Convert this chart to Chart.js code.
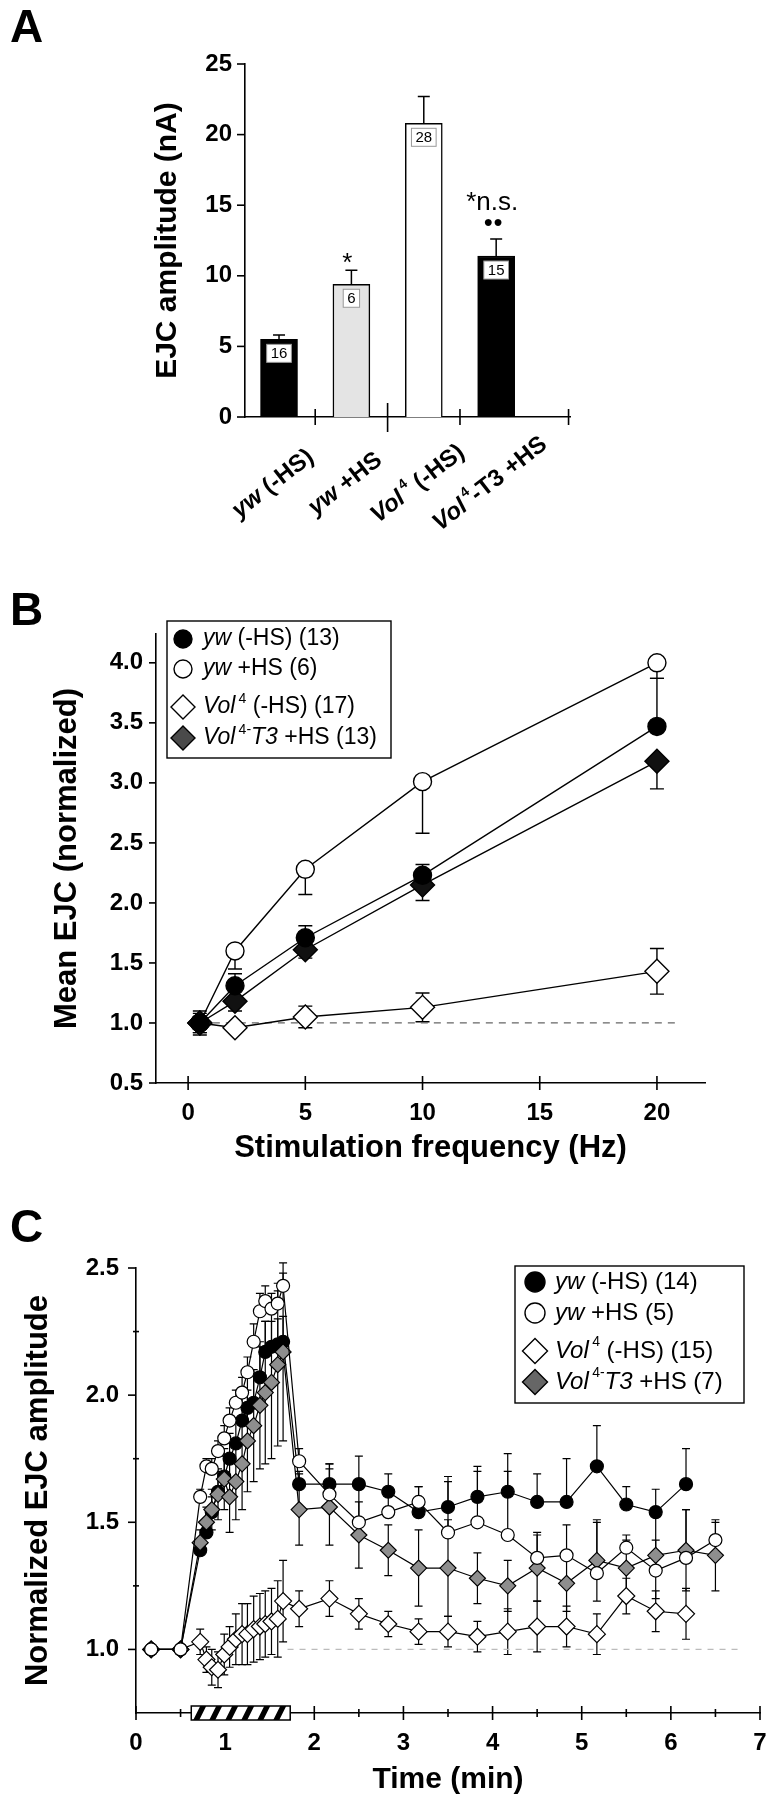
<!DOCTYPE html>
<html>
<head>
<meta charset="utf-8">
<title>EJC amplitude</title>
<script src="https://cdn.jsdelivr.net/npm/chart.js@4.4.1/dist/chart.umd.min.js"></script>
<style>
  html, body { margin: 0; padding: 0; background: #fff; }
  body { width: 774px; height: 1800px; position: relative; overflow: hidden; font-family: "Liberation Sans", Arial, sans-serif; }
  canvas { position: absolute; left: 0; }
  .panel { position: absolute; left: 10px; font-size: 46px; font-weight: bold; line-height: 46px; }
</style>
</head>
<body>
<canvas id="chartA" width="774" height="560" style="top:0"></canvas>
<canvas id="chartB" width="774" height="630" style="top:560px"></canvas>
<canvas id="chartC" width="774" height="610" style="top:1190px"></canvas>
<div class="panel" style="top:3px">A</div>
<div class="panel" style="top:586px">B</div>
<div class="panel" style="top:1203px">C</div>
<script>
const FONT = '"Liberation Sans", Arial, Helvetica, sans-serif';
Chart.defaults.font.family = FONT;
Chart.defaults.color = '#000';

// ---- A: EJC amplitude per genotype
const groupsA = [1, 2, 3, 4];
const ampA = [5.5, 9.4, 20.8, 11.4];
const ampErrA = [0.3, 1.0, 1.9, 1.2];
const nA = ['16', '6', '28', '15'];
const marksA = ['', '*', '', '*n.s.'];
const dotsA = ['', '', '', '●●'];
const groupTicksA = [1.5, 2.5, 3.5, 5];
const labelsA = [
  [{t: 'yw', i: 1}, {t: ' (-HS)'}],
  [{t: 'yw', i: 1}, {t: ' +HS'}],
  [{t: 'Vol', i: 1}, {t: '4', sup: 1}, {t: ' (-HS)'}],
  [{t: 'Vol', i: 1}, {t: '4', sup: 1}, {t: '-T3 +HS'}]
];

// ---- B: mean EJC vs stimulation frequency
const freqB = [0.5, 2, 5, 10, 20];
const ywB = [1.0, 1.31, 1.71, 2.23, 3.47];
const ywErrB = [0.1, 0.1, 0.1, 0.09, 0.4];
const ywHsB = [1.0, 1.6, 2.28, 3.01, 4.0];
const ywHsErrB = [0.1, 0.15, 0.21, 0.43, 0.13];
const volB = [1.0, 0.96, 1.05, 1.13, 1.43];
const volErrB = [0.08, 0.04, 0.09, 0.12, 0.19];
const volT3B = [1.0, 1.18, 1.61, 2.15, 3.18];
const volT3ErrB = [0.08, 0.08, 0.07, 0.13, 0.23];
const refB = [0.5, 21];
const ticksBx = [0, 5, 10, 15, 20];
const ticksBy = [0.5, 1.0, 1.5, 2.0, 2.5, 3.0, 3.5, 4.0];
const legendB = [
  [{t: 'yw', i: 1}, {t: ' (-HS) (13)'}],
  [{t: 'yw', i: 1}, {t: ' +HS (6)'}],
  [{t: 'Vol', i: 1}, {t: '4', sup: 1}, {t: ' (-HS) (17)'}],
  [{t: 'Vol', i: 1}, {t: '4-', sup: 1}, {t: 'T3', i: 1}, {t: ' +HS (13)'}]
];

// ---- C: normalized EJC amplitude over time
const preT = [0.17, 0.5];
const stimT = [0.72, 0.79, 0.85, 0.92, 0.99, 1.05, 1.12, 1.19, 1.25, 1.32, 1.39, 1.45, 1.52, 1.59, 1.65];
const postT = [1.83, 2.17, 2.5, 2.83, 3.17, 3.5, 3.83, 4.17, 4.5, 4.83, 5.17, 5.5, 5.83, 6.17, 6.5];

const ywC = [1, 1,
  1.39, 1.46, 1.54, 1.62, 1.68, 1.75, 1.81, 1.90, 1.95, 1.97, 2.07, 2.17, 2.19, 2.20, 2.21,
  1.65, 1.65, 1.65, 1.62, 1.54, 1.56, 1.60, 1.62, 1.58, 1.58, 1.72, 1.57, 1.54, 1.65];
const ywErrC = [0, 0,
  0.04, 0.05, 0.06, 0.08, 0.08, 0.1, 0.1, 0.1, 0.12, 0.12, 0.12, 0.12, 0.1, 0.1, 0.1,
  0.05, 0.08, 0.11, 0.07, 0.1, 0.1, 0.12, 0.15, 0.11, 0.17, 0.16, 0.07, 0.09, 0.14];
const ywHsC = [1, 1,
  1.60, 1.72, 1.71, 1.78, 1.83, 1.90, 1.97, 2.01, 2.09, 2.21, 2.33, 2.37, 2.34, 2.36, 2.43,
  1.74, 1.61, 1.50, 1.54, 1.58, 1.46, 1.50, 1.45, 1.36, 1.37, 1.30, 1.40, 1.31, 1.36, 1.43];
const ywHsErrC = [0, 0,
  0.03, 0.03, 0.04, 0.04, 0.05, 0.05, 0.05, 0.06, 0.06, 0.07, 0.07, 0.06, 0.06, 0.05, 0.05,
  0.05, 0.12, 0.16, 0.08, 0.06, 0.22, 0.2, 0.25, 0.1, 0.12, 0.2, 0.05, 0.12, 0.19, 0.07];
const volC = [1, 1,
  1.03, 0.96, 0.93, 0.92, 0.98, 1.01, 1.04, 1.06, 1.06, 1.08, 1.09, 1.10, 1.11, 1.12, 1.19,
  1.16, 1.20, 1.14, 1.10, 1.07, 1.07, 1.05, 1.07, 1.09, 1.09, 1.06, 1.21, 1.15, 1.14];
const volErrC = [0, 0,
  0.05, 0.05, 0.07, 0.07, 0.08, 0.08, 0.1, 0.12, 0.12, 0.13, 0.13, 0.13, 0.13, 0.15, 0.16,
  0.07, 0.07, 0.06, 0.05, 0.05, 0.06, 0.06, 0.09, 0.1, 0.08, 0.08, 0.07, 0.08, 0.1];
const volT3C = [1, 1,
  1.42, 1.50, 1.55, 1.61, 1.67, 1.60, 1.66, 1.73, 1.82, 1.88, 1.96, 2.01, 2.05, 2.12, 2.17,
  1.55, 1.56, 1.45, 1.39, 1.32, 1.32, 1.28, 1.25, 1.32, 1.26, 1.35, 1.32, 1.37, 1.39, 1.37];
const volT3ErrC = [0, 0,
  0.05, 0.06, 0.08, 0.1, 0.12, 0.14, 0.15, 0.18, 0.2, 0.22, 0.25, 0.28, 0.3, 0.32, 0.35,
  0.14, 0.15, 0.13, 0.1, 0.15, 0.19, 0.1, 0.1, 0.13, 0.11, 0.16, 0.11, 0.17, 0.16, 0.14];
const refC = [1.7, 6.8];
const stimC = [0.62, 1.73];
const legendC = [
  [{t: 'yw', i: 1}, {t: ' (-HS) (14)'}],
  [{t: 'yw', i: 1}, {t: ' +HS (5)'}],
  [{t: 'Vol', i: 1}, {t: '4', sup: 1}, {t: ' (-HS) (15)'}],
  [{t: 'Vol', i: 1}, {t: '4-', sup: 1}, {t: 'T3', i: 1}, {t: ' +HS (7)'}]
];

// ---------- helpers
function pts(xs, ys) {
  return ys.map((y, i) => ({x: xs[i], y: y}));
}

function richRuns(ctx, parts, size, bold) {
  let w = 0;
  const runs = parts.map(p => {
    const fs = p.sup ? Math.round(size * 0.6) : size;
    const font = (p.i ? 'italic ' : '') + (bold ? 'bold ' : '') + fs + 'px ' + FONT;
    ctx.font = font;
    const gap = p.sup ? size * 0.14 : 0;
    const r = {t: p.t, font: font, x: w + gap, dy: p.sup ? -size * 0.36 : 0};
    w += gap + ctx.measureText(p.t).width;
    return r;
  });
  return {runs: runs, width: w};
}

function drawRich(ctx, parts, x, y, size, bold) {
  const rr = richRuns(ctx, parts, size, bold);
  rr.runs.forEach(r => {
    ctx.font = r.font;
    ctx.fillText(r.t, x + r.x, y + r.dy);
  });
  return rr.width;
}

function drawMarker(ctx, m, x, y) {
  ctx.save();
  ctx.fillStyle = m.fill;
  ctx.strokeStyle = '#000';
  ctx.lineWidth = 1.4;
  ctx.beginPath();
  if (m.shape === 'circle') {
    ctx.arc(x, y, m.r, 0, Math.PI * 2);
  } else {
    ctx.moveTo(x, y - m.r);
    ctx.lineTo(x + m.r, y);
    ctx.lineTo(x, y + m.r);
    ctx.lineTo(x - m.r, y);
    ctx.closePath();
  }
  ctx.fill();
  ctx.stroke();
  ctx.restore();
}

// tick marks that can cross the axis line
const tickMarks = {
  id: 'tickMarks',
  afterDraw(chart, args, opts) {
    const ctx = chart.ctx;
    ctx.save();
    ctx.strokeStyle = '#000';
    ctx.lineWidth = 1.6;
    Object.keys(opts.scales || {}).forEach(id => {
      const s = chart.scales[id];
      const spec = opts.scales[id];
      s.ticks.forEach(t => {
        const len = spec(t.value, t.label);
        if (!len) return;
        const p = s.getPixelForValue(t.value);
        ctx.beginPath();
        if (s.isHorizontal()) {
          const y0 = chart.chartArea.bottom;
          ctx.moveTo(p, y0 - len[1]);
          ctx.lineTo(p, y0 + len[0]);
        } else {
          const x0 = chart.chartArea.left;
          ctx.moveTo(x0 - len[0], p);
          ctx.lineTo(x0 + len[1], p);
        }
        ctx.stroke();
      });
    });
    ctx.restore();
  }
};

function drawErrors(chart, opts) {
  const ctx = chart.ctx;
  const ys = chart.scales.y;
  ctx.save();
  ctx.strokeStyle = '#000';
  ctx.lineWidth = opts.lineWidth || 1.3;
  chart.data.datasets.forEach((ds, di) => {
    if (!ds.err) return;
    chart.getDatasetMeta(di).data.forEach((el, i) => {
      const e = ds.err[i];
      if (!e) return;
      const v = ds.data[i].y;
      const ends = [];
      if (ds.errDir !== 'down') ends.push(v + e);
      if (ds.errDir !== 'up') ends.push(v - e);
      ends.forEach(end => {
        const y = ys.getPixelForValue(end);
        ctx.beginPath();
        ctx.moveTo(el.x, el.y);
        ctx.lineTo(el.x, y);
        ctx.moveTo(el.x - opts.cap, y);
        ctx.lineTo(el.x + opts.cap, y);
        ctx.stroke();
      });
    });
  });
  ctx.restore();
}

const errorBars = {
  id: 'errorBars',
  beforeDatasetsDraw(chart, args, opts) { if (!opts.onTop) drawErrors(chart, opts); },
  afterDatasetsDraw(chart, args, opts) { if (opts.onTop) drawErrors(chart, opts); }
};

const legendBox = {
  id: 'legendBox',
  afterDraw(chart, args, opts) {
    if (!opts.rows) return;
    const ctx = chart.ctx;
    const b = opts.box;
    ctx.save();
    ctx.fillStyle = '#fff';
    ctx.fillRect(b.x, b.y, b.w, b.h);
    ctx.strokeStyle = '#000';
    ctx.lineWidth = 1.4;
    ctx.strokeRect(b.x, b.y, b.w, b.h);
    opts.rows.forEach((parts, i) => {
      const cy = b.rowY[i];
      drawMarker(ctx, opts.markers[i], b.mx, cy);
      ctx.fillStyle = '#000';
      ctx.textAlign = 'left';
      ctx.textBaseline = 'middle';
      drawRich(ctx, parts, b.tx, cy, opts.size, false);
    });
    ctx.restore();
  }
};

function lineSeries(xs, ys, err, dir, style) {
  return Object.assign({
    type: 'line',
    data: pts(xs, ys),
    err: err,
    errDir: dir,
    borderColor: '#000',
    borderWidth: 1.4,
    pointBorderColor: '#000',
    pointBorderWidth: 1.4,
    tension: 0,
    fill: false
  }, style);
}

function refLine(xs, color, dash) {
  return {
    type: 'line',
    data: pts(xs, [1, 1]),
    borderColor: color,
    borderWidth: 1.3,
    borderDash: dash,
    pointRadius: 0,
    order: 10
  };
}

const tickFont = {size: 24, weight: 'bold'};
const noGrid = {display: false, drawTicks: false};
const axisBorder = {display: true, color: '#000', width: 1.6};
const baseOpts = {
  responsive: false,
  animation: false,
  events: [],
  plugins: {legend: {display: false}, tooltip: {enabled: false}}
};

// ---------- Panel A
const groupLabelsA = {
  id: 'groupLabelsA',
  afterDraw(chart) {
    const ctx = chart.ctx;
    const ys = chart.scales.y;
    const meta = chart.getDatasetMeta(0);
    ctx.save();
    meta.data.forEach((el, i) => {
      // n inside the bar
      ctx.font = '15px ' + FONT;
      const w = ctx.measureText(nA[i]).width + 8;
      const top = el.y + 5;
      ctx.fillStyle = '#fff';
      ctx.fillRect(el.x - w / 2, top, w, 18);
      ctx.strokeStyle = '#999';
      ctx.lineWidth = 1;
      ctx.strokeRect(el.x - w / 2, top, w, 18);
      ctx.fillStyle = '#000';
      ctx.textAlign = 'center';
      ctx.textBaseline = 'middle';
      ctx.fillText(nA[i], el.x, top + 9.5);

      // significance marks over the error bar
      const errTop = ys.getPixelForValue(ampA[i] + ampErrA[i]);
      if (marksA[i]) {
        ctx.font = '26px ' + FONT;
        ctx.fillText(marksA[i], el.x - 4, marksA[i] === '*' ? errTop - 6 : errTop - 36);
      }
      if (dotsA[i]) {
        ctx.font = '16px ' + FONT;
        ctx.fillText(dotsA[i], el.x - 3, errTop - 16);
      }

      // rotated group label
      ctx.save();
      ctx.translate(el.x - 6, 484);
      ctx.rotate(-38 * Math.PI / 180);
      ctx.textAlign = 'left';
      ctx.textBaseline = 'middle';
      const lw = richRuns(ctx, labelsA[i], 24, true).width;
      drawRich(ctx, labelsA[i], -lw / 2, 0, 24, true);
      ctx.restore();
    });
    ctx.restore();
  }
};

new Chart(document.getElementById('chartA'), {
  type: 'bar',
  data: {
    datasets: [{
      data: pts(groupsA, ampA),
      err: ampErrA,
      errDir: 'up',
      backgroundColor: ['#000', '#e4e4e4', '#fff', '#000'],
      borderColor: '#000',
      borderWidth: 1.5,
      barThickness: 37
    }]
  },
  options: Object.assign({}, baseOpts, {
    layout: {padding: {left: 140, top: 64, right: 204, bottom: 143}},
    plugins: Object.assign({}, baseOpts.plugins, {
      errorBars: {cap: 6, onTop: true, lineWidth: 1.5},
      tickMarks: {scales: {
        y: () => [8, 0],
        x: v => (v === 2.5 ? [15, 14] : [8, 8])
      }}
    }),
    scales: {
      x: {
        type: 'linear', min: 0.53, max: 5.02, offset: false,
        grid: {display: false, drawTicks: false, offset: false}, border: axisBorder,
        ticks: {display: false},
        afterBuildTicks: s => { s.ticks = groupTicksA.map(v => ({value: v})); },
        afterFit: s => { s.height = 0; }
      },
      y: {
        min: 0, max: 25,
        grid: noGrid, border: axisBorder,
        ticks: {stepSize: 5, font: tickFont, color: '#000', padding: 13},
        title: {display: true, text: 'EJC amplitude (nA)', color: '#000',
          font: {size: 30, weight: 'bold'}, padding: {top: 10, bottom: 0}},
        afterFit: s => { s.width = 105; }
      }
    }
  }),
  plugins: [errorBars, tickMarks, groupLabelsA]
});

// ---------- Panel B
new Chart(document.getElementById('chartB'), {
  type: 'line',
  data: {
    datasets: [
      lineSeries(freqB, ywB, ywErrB, 'up',
        {pointStyle: 'circle', pointRadius: 9, pointBackgroundColor: '#000'}),
      lineSeries(freqB, volT3B, volT3ErrB, 'down',
        {pointStyle: 'rectRot', pointRadius: 12, pointBackgroundColor: '#111'}),
      lineSeries(freqB, ywHsB, ywHsErrB, 'down',
        {pointStyle: 'circle', pointRadius: 9, pointBackgroundColor: '#fff'}),
      lineSeries(freqB, volB, volErrB, 'both',
        {pointStyle: 'rectRot', pointRadius: 12, pointBackgroundColor: '#fff'}),
      refLine(refB, '#666', [7, 6])
    ]
  },
  options: Object.assign({}, baseOpts, {
    layout: {padding: {left: 40, top: 74, right: 69, bottom: 0}},
    plugins: Object.assign({}, baseOpts.plugins, {
      errorBars: {cap: 7, lineWidth: 1.4},
      tickMarks: {scales: {y: () => [7, 0], x: () => [7, 7]}},
      legendBox: {
        box: {x: 167, y: 61, w: 224, h: 137, mx: 183, tx: 203, rowY: [79, 109, 147, 178]},
        size: 23,
        rows: legendB,
        markers: [
          {shape: 'circle', r: 9, fill: '#000'},
          {shape: 'circle', r: 9, fill: '#fff'},
          {shape: 'diamond', r: 12, fill: '#fff'},
          {shape: 'diamond', r: 12, fill: '#4a4a4a'}
        ]
      }
    }),
    scales: {
      x: {
        type: 'linear', min: -1.37, max: 22.05,
        grid: noGrid, border: axisBorder,
        ticks: {font: tickFont, color: '#000', padding: 16, maxRotation: 0},
        afterBuildTicks: s => { s.ticks = ticksBx.map(v => ({value: v})); },
        title: {display: true, text: 'Stimulation frequency (Hz)', color: '#000',
          font: {size: 31, weight: 'bold'}, padding: {top: 0, bottom: 23}},
        afterFit: s => { s.height = 107; }
      },
      y: {
        min: 0.5, max: 4.24,
        grid: noGrid, border: axisBorder,
        ticks: {font: tickFont, color: '#000', padding: 13, callback: v => v.toFixed(1)},
        afterBuildTicks: s => { s.ticks = ticksBy.map(v => ({value: v})); },
        title: {display: true, text: 'Mean EJC (normalized)', color: '#000',
          font: {size: 31, weight: 'bold'}, padding: {top: 9, bottom: 0}},
        afterFit: s => { s.width = 116; }
      }
    }
  }),
  plugins: [errorBars, tickMarks, legendBox]
});

// ---------- Panel C
const stimBar = {
  id: 'stimBar',
  afterDraw(chart) {
    const xs = chart.scales.x;
    const ctx = chart.ctx;
    const x0 = xs.getPixelForValue(stimC[0]);
    const x1 = xs.getPixelForValue(stimC[1]);
    const yb = chart.chartArea.bottom;
    const h = 7;
    ctx.save();
    ctx.fillStyle = '#fff';
    ctx.fillRect(x0, yb - h, x1 - x0, 2 * h);
    ctx.beginPath();
    ctx.rect(x0, yb - h, x1 - x0, 2 * h);
    ctx.clip();
    ctx.fillStyle = '#000';
    for (let px = x0 + 2; px < x1; px += 16) {
      ctx.beginPath();
      ctx.moveTo(px, yb + h);
      ctx.lineTo(px + 6, yb + h);
      ctx.lineTo(px + 13, yb - h);
      ctx.lineTo(px + 7, yb - h);
      ctx.closePath();
      ctx.fill();
    }
    ctx.restore();
    ctx.save();
    ctx.strokeStyle = '#000';
    ctx.lineWidth = 1.5;
    ctx.strokeRect(x0, yb - h, x1 - x0, 2 * h);
    ctx.restore();
  }
};

const allT = preT.concat(stimT, postT);
const isHalf = v => Math.abs(v * 2 - Math.round(v * 2)) < 1e-6;

new Chart(document.getElementById('chartC'), {
  type: 'line',
  data: {
    datasets: [
      lineSeries(allT, ywHsC, ywHsErrC, 'up',
        {pointStyle: 'circle', pointRadius: 6.5, pointBackgroundColor: '#fff', borderWidth: 1.2, pointBorderWidth: 1.2}),
      lineSeries(allT, volT3C, volT3ErrC, 'both',
        {pointStyle: 'rectRot', pointRadius: 8, pointBackgroundColor: '#8e8e8e', borderWidth: 1.2, pointBorderWidth: 1.2}),
      lineSeries(allT, volC, volErrC, 'both',
        {pointStyle: 'rectRot', pointRadius: 8.5, pointBackgroundColor: '#fff', borderWidth: 1.2, pointBorderWidth: 1.2}),
      lineSeries(allT, ywC, ywErrC, 'up',
        {pointStyle: 'circle', pointRadius: 6.5, pointBackgroundColor: '#000', borderWidth: 1.2, pointBorderWidth: 1.2}),
      refLine(refC, '#bbb', [6, 6])
    ]
  },
  options: Object.assign({}, baseOpts, {
    layout: {padding: {left: 10, top: 78, right: 14, bottom: 0}},
    plugins: Object.assign({}, baseOpts.plugins, {
      errorBars: {cap: 4, lineWidth: 1.2},
      tickMarks: {scales: {
        y: (v, label) => (v < 0.76 ? null : (label ? [8, 0] : [3, 3])),
        x: (v, label) => (label ? [7, 7] : [4, 4])
      }},
      legendBox: {
        box: {x: 515, y: 76, w: 229, h: 137, mx: 535, tx: 555, rowY: [92, 123, 161, 192]},
        size: 24,
        rows: legendC,
        markers: [
          {shape: 'circle', r: 10, fill: '#000'},
          {shape: 'circle', r: 10, fill: '#fff'},
          {shape: 'diamond', r: 12.5, fill: '#fff'},
          {shape: 'diamond', r: 12.5, fill: '#666'}
        ]
      }
    }),
    scales: {
      x: {
        type: 'linear', min: 0, max: 7,
        grid: noGrid, border: axisBorder,
        ticks: {stepSize: 0.5, autoSkip: false, maxRotation: 0, font: tickFont, color: '#000', padding: 16,
          callback: v => (Number.isInteger(v) ? String(v) : '')},
        title: {display: true, text: 'Time (min)', color: '#000',
          font: {size: 30, weight: 'bold'}, padding: {top: 0, bottom: 2}},
        afterFit: s => { s.height = 87; s.paddingLeft = 0; s.paddingRight = 0; }
      },
      y: {
        min: 0.75, max: 2.5,
        grid: noGrid, border: axisBorder,
        ticks: {stepSize: 0.25, autoSkip: false, font: tickFont, color: '#000', padding: 17,
          callback: v => (isHalf(v) ? v.toFixed(1) : '')},
        title: {display: true, text: 'Normalized EJC amplitude', color: '#000',
          font: {size: 31, weight: 'bold'}, padding: {top: 10, bottom: 0}},
        afterFit: s => { s.width = 126; }
      }
    }
  }),
  plugins: [errorBars, tickMarks, stimBar, legendBox]
});
</script>
</body>
</html>
